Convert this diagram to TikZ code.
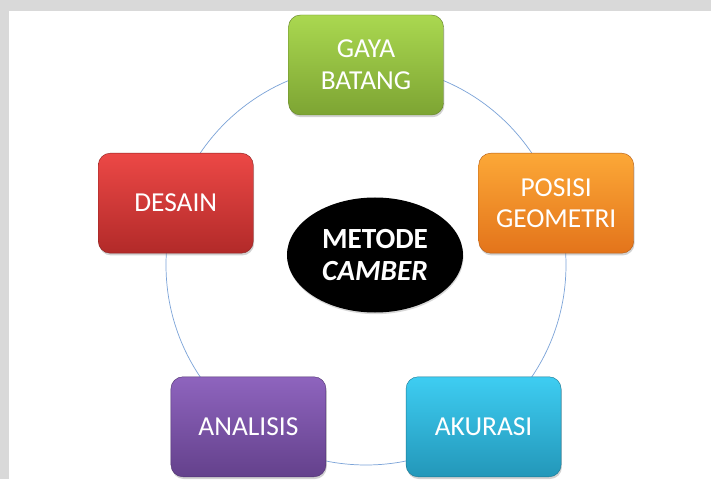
\documentclass[tikz,border=0pt]{standalone}
\usepackage{fontspec}
\setmainfont{Carlito}
\usepackage{tikz}
\usetikzlibrary{positioning,shapes.geometric,shadows}

\definecolor{gayatop}{HTML}{AAD850}
\definecolor{gayabot}{HTML}{7DA433}
\definecolor{posisitop}{HTML}{FCA837}
\definecolor{posisibot}{HTML}{E3741B}
\definecolor{desaintop}{HTML}{EC4846}
\definecolor{desainbot}{HTML}{B22A29}
\definecolor{analisistop}{HTML}{8E64BE}
\definecolor{analisisbot}{HTML}{64418C}
\definecolor{akurasitop}{HTML}{3ECDF2}
\definecolor{akurasibot}{HTML}{2397B9}
\definecolor{ringblue}{HTML}{7BA3D8}
\definecolor{pagegrey}{HTML}{D9D9D9}

\begin{document}
\begin{tikzpicture}[
        font=\fontsize{19.5}{22.7}\selectfont,
        box/.style={rectangle,rounded corners=0.3cm,minimum width=3.875cm,minimum height=2.5cm,align=center,
            text=white,draw=#1bot!80!black,line width=0.3pt,top color=#1top,bottom color=#1bot,
            drop shadow={shadow xshift=0.6pt,shadow yshift=-1.6pt,opacity=0.35}},
        hub/.style={ellipse,fill=black,minimum width=4.4cm,minimum height=2.875cm,inner sep=0pt,align=center,
            text=white,font=\fontsize{20.8}{22.9}\selectfont\bfseries,
            drop shadow={shadow xshift=0.4pt,shadow yshift=-1.2pt,opacity=0.3}},
        ring/.style={draw=ringblue,line width=0.5pt}
    ]
        % page and margins
        \fill[pagegrey] (-9.15,-5.35) rectangle (8.625,6.625);
        \fill[white] (-8.925,-5.35) rectangle (8.625,6.35);
        \useasboundingbox (-9.15,-5.35) rectangle (8.625,6.625);

        \coordinate (centre) at (0,0);
        \draw[ring] (centre) circle (5cm);

        \node[box=gaya] (gaya) at (90:5) {GAYA\\BATANG};
        \node[box=posisi] (posisi) at (18:5) {POSISI\\GEOMETRI};
        \node[box=akurasi] (akurasi) at (-54:5) {AKURASI};
        \node[box=analisis] (analisis) at (-126:5) {ANALISIS};
        \node[box=desain] (desain) at (162:5) {DESAIN};

        \node[hub] (metode) at (0.225,0.25) {METODE\\\textit{CAMBER}};
    \end{tikzpicture}
\end{document}
